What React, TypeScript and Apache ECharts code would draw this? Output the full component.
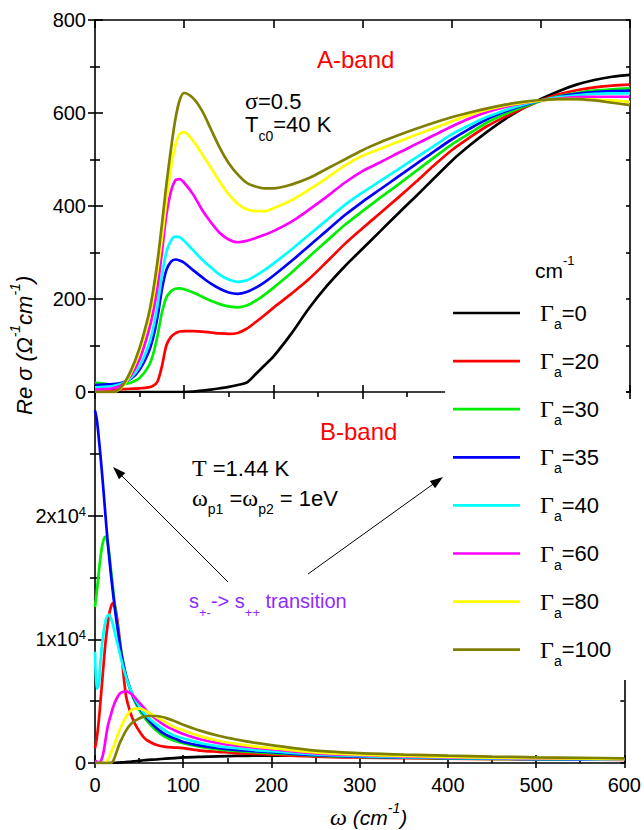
import React, { useEffect, useRef } from 'react';
import * as echarts from 'echarts';

// ---------- data ----------
const gammaValues = ['0', '20', '30', '35', '40', '60', '80', '100'];
const lineColors = ['#000000', '#ff0000', '#00ee00', '#0000ff', '#00ffff', '#ff00ff', '#ffff00', '#808000'];

// A-band (top panel)
const omegaA = [0, 10, 20, 30, 40, 50, 60, 65, 70, 75, 80, 85, 90, 95, 100, 110, 120, 130, 140, 150, 160, 170, 180, 190, 200, 220, 240, 260, 280, 300, 320, 340, 360, 380, 400, 420, 440, 460, 480, 500, 520, 540, 560, 580, 600];
const sigmaA_G0 = [0, 0, 0, 0, 0, 0, 0, 0, 0, 0, 0, 0, 0, 0, 0, 1, 3, 5, 8, 11, 15, 20, 38, 57, 76, 125, 180, 228, 270, 308, 346, 384, 421, 459, 497, 530, 560, 587, 610, 630, 647, 661, 671, 678, 682];
const sigmaA_G20 = [4, 5, 5, 6, 7, 8, 10, 13, 22, 55, 100, 118, 126, 130, 131, 131, 130, 128, 126, 125, 127, 136, 150, 165, 181, 211, 243, 280, 318, 352, 385, 418, 452, 487, 520, 547, 572, 592, 610, 627, 640, 649, 655, 659, 661];
const sigmaA_G30 = [20, 18, 16, 17, 20, 30, 55, 80, 120, 170, 203, 216, 222, 223, 221, 214, 205, 196, 189, 184, 182, 186, 196, 209, 224, 256, 291, 325, 359, 389, 418, 446, 475, 504, 532, 556, 580, 598, 613, 626, 636, 643, 648, 651, 653];
const sigmaA_G35 = [15, 16, 17, 20, 28, 48, 85, 115, 160, 220, 262, 280, 285, 283, 278, 262, 247, 233, 222, 214, 211, 215, 224, 236, 250, 281, 314, 347, 380, 409, 436, 463, 490, 517, 543, 566, 587, 603, 616, 627, 635, 641, 645, 647, 648];
const sigmaA_G40 = [10, 11, 13, 18, 30, 55, 100, 135, 185, 250, 300, 325, 334, 333, 325, 305, 285, 268, 252, 242, 237, 240, 250, 262, 276, 306, 338, 370, 402, 429, 454, 479, 504, 529, 554, 574, 592, 606, 618, 627, 634, 638, 641, 642, 642];
const sigmaA_G60 = [5, 6, 8, 15, 35, 70, 130, 170, 225, 300, 380, 430, 455, 458, 450, 425, 392, 365, 342, 328, 322, 325, 331, 338, 346, 366, 392, 420, 450, 475, 494, 514, 533, 552, 571, 588, 602, 613, 621, 627, 631, 634, 635, 635, 635];
const sigmaA_G80 = [0, 0, 0, 10, 40, 88, 155, 200, 260, 330, 410, 480, 530, 555, 559, 540, 512, 482, 452, 425, 405, 393, 389, 389, 395, 412, 435, 460, 487, 508, 523, 538, 553, 567, 582, 596, 607, 616, 622, 627, 630, 630, 629, 627, 624];
const sigmaA_G100 = [0, 0, 0, 12, 45, 95, 165, 215, 280, 360, 445, 520, 585, 628, 643, 632, 605, 565, 525, 492, 468, 450, 442, 438, 438, 446, 460, 480, 500, 520, 537, 552, 566, 579, 591, 601, 610, 618, 624, 628, 630, 630, 627, 622, 617];
const sigmaA = [sigmaA_G0, sigmaA_G20, sigmaA_G30, sigmaA_G35, sigmaA_G40, sigmaA_G60, sigmaA_G80, sigmaA_G100];

// B-band (bottom panel)
const omegaB = [0, 2, 4, 6, 8, 10, 12, 14, 16, 18, 20, 22, 24, 26, 28, 30, 35, 40, 45, 50, 55, 60, 70, 80, 90, 100, 120, 140, 160, 180, 200, 250, 300, 350, 400, 450, 500, 550, 600];
const sigmaB_G0 = [0, 0, 0, 0, 0, 0, 0, 0, 0, 0, 0, 10, 20, 30, 40, 50, 80, 100, 140, 180, 220, 250, 300, 350, 400, 450, 500, 540, 570, 590, 600, 600, 560, 520, 480, 440, 400, 370, 340];
const sigmaB_G20 = [1200, 2000, 3200, 4800, 6500, 8200, 9800, 11000, 12000, 12600, 12900, 12800, 12200, 11200, 10000, 8800, 5500, 4100, 3200, 2600, 2100, 1800, 1450, 1300, 1250, 1200, 1000, 900, 800, 740, 680, 520, 440, 390, 350, 320, 300, 280, 260];
const sigmaB_G30 = [12600, 13800, 15200, 16500, 17500, 18100, 18300, 17900, 17000, 15700, 14400, 13100, 11900, 10800, 9800, 8900, 7100, 5900, 5000, 4300, 3800, 3300, 2600, 2100, 1800, 1600, 1300, 1100, 970, 880, 800, 600, 500, 430, 380, 340, 310, 290, 270];
const sigmaB_G35 = [28500, 27800, 26500, 25000, 23400, 21700, 19900, 18200, 16700, 15300, 14000, 12800, 11700, 10700, 9700, 8800, 7100, 6000, 5100, 4500, 4000, 3500, 2800, 2300, 2000, 1700, 1400, 1200, 1050, 950, 870, 630, 520, 450, 400, 360, 320, 300, 280];
const sigmaB_G40 = [9000, 6000, 6200, 8000, 9600, 10700, 11500, 11900, 12000, 11700, 11300, 10700, 10100, 9500, 8900, 8300, 7000, 6000, 5200, 4600, 4100, 3700, 3100, 2600, 2200, 2000, 1600, 1350, 1200, 1050, 950, 690, 560, 480, 420, 380, 340, 310, 290];
const sigmaB_G60 = [200, 100, 0, 100, 400, 1000, 1900, 2800, 3400, 3900, 4400, 4800, 5150, 5400, 5600, 5700, 5800, 5650, 5300, 4900, 4500, 4100, 3500, 3000, 2650, 2350, 1900, 1600, 1400, 1250, 1120, 780, 630, 530, 460, 410, 370, 340, 310];
const sigmaB_G80 = [0, 0, 0, 0, 0, 0, 50, 200, 450, 800, 1150, 1500, 1900, 2300, 2700, 3000, 3700, 4200, 4400, 4400, 4300, 4100, 3700, 3300, 2900, 2650, 2150, 1800, 1550, 1350, 1200, 850, 680, 570, 490, 430, 390, 350, 320];
const sigmaB_G100 = [0, 0, 0, 0, 0, 0, 0, 0, 0, 0, 100, 400, 800, 1200, 1600, 1900, 2600, 3100, 3400, 3600, 3750, 3800, 3800, 3650, 3400, 3100, 2600, 2200, 1900, 1650, 1450, 1000, 800, 680, 590, 520, 460, 420, 380];
const sigmaB = [sigmaB_G0, sigmaB_G20, sigmaB_G30, sigmaB_G35, sigmaB_G40, sigmaB_G60, sigmaB_G80, sigmaB_G100];

// ---------- helpers ----------
const SANS = '"Liberation Sans", Arial, Helvetica, sans-serif';
const SERIF = '"Liberation Serif", "Times New Roman", Times, serif';

let measureCtx: CanvasRenderingContext2D | null = null;
function measure(t: string, font: string): number {
  if (!measureCtx) measureCtx = document.createElement('canvas').getContext('2d');
  if (!measureCtx) return t.length * 10;
  measureCtx.font = font;
  return measureCtx.measureText(t).width;
}

type Part = { t: string; s?: number; f?: string; i?: boolean; dy?: number };
function seq(x: number, y: number, parts: Part[], fill: string, base = 22, rotation = 0) {
  let cx = 0;
  const children = parts.map((p) => {
    const size = p.s ?? base;
    const fam = p.f ?? SANS;
    const style = p.i ? 'italic' : 'normal';
    const el = {
      type: 'text',
      x: cx,
      y: p.dy ?? 0,
      z: 30,
      silent: true,
      style: {
        text: p.t,
        fontSize: size,
        fontFamily: fam,
        fontStyle: style,
        fill,
        align: 'left',
        verticalAlign: 'middle',
      },
    };
    cx += measure(p.t, `${style} ${size}px ${fam}`);
    return el;
  });
  return { type: 'group', x, y, rotation, z: 30, silent: true, children };
}

function arrow(x1: number, y1: number, x2: number, y2: number) {
  const dx = x2 - x1;
  const dy = y2 - y1;
  const len = Math.sqrt(dx * dx + dy * dy);
  const ux = dx / len;
  const uy = dy / len;
  const L = 13;
  const w = 4.5;
  const bx = x2 - ux * L;
  const by = y2 - uy * L;
  return [
    { type: 'line', z: 30, silent: true, shape: { x1, y1, x2: bx + ux * 2, y2: by + uy * 2 }, style: { stroke: '#000', lineWidth: 1 } },
    {
      type: 'polygon',
      z: 30,
      silent: true,
      shape: { points: [[x2, y2], [bx - uy * w, by + ux * w], [bx + uy * w, by - ux * w]] },
      style: { fill: '#000' },
    },
  ];
}

export default function App() {
  const ref = useRef<HTMLDivElement>(null);

  useEffect(() => {
    document.body.style.margin = '0';
    if (!ref.current) return;
    const chart = echarts.init(ref.current, undefined, { renderer: 'svg' });

    const ls = { color: '#000', width: 1.6 };
    const tickFont = { fontSize: 20, fontFamily: SANS, color: '#000' };
    const xBase = { type: 'value', min: 0, max: 600, interval: 100, splitLine: { show: false }, axisLabel: { show: false } };

    const xAxis = [
      { ...xBase, gridIndex: 0, position: 'bottom', axisLine: { show: true, onZero: false, lineStyle: ls }, axisTick: { show: true, inside: false, length: 7, lineStyle: ls }, minorTick: { show: true, splitNumber: 2, length: 5, lineStyle: ls } },
      { ...xBase, gridIndex: 0, position: 'bottom', axisLine: { show: false, onZero: false }, axisTick: { show: true, inside: true, length: 7, lineStyle: ls } },
      { ...xBase, gridIndex: 0, position: 'top', axisLine: { show: true, onZero: false, lineStyle: ls }, axisTick: { show: true, inside: true, length: 8, lineStyle: ls } },
      { ...xBase, gridIndex: 1, position: 'bottom', axisLine: { show: true, onZero: false, lineStyle: ls }, axisTick: { show: true, inside: true, length: 8, lineStyle: ls }, minorTick: { show: true, splitNumber: 2, length: 5, lineStyle: ls }, axisLabel: { show: true, margin: 12, ...tickFont } },
      { ...xBase, gridIndex: 1, position: 'bottom', axisLine: { show: false, onZero: false }, axisTick: { show: true, inside: false, length: 5, lineStyle: ls } },
    ];

    const yA = { type: 'value', min: 0, max: 800, interval: 200, splitLine: { show: false } };
    const yB = { type: 'value', min: 0, max: 30000, interval: 10000, splitLine: { show: false } };
    const yAxis = [
      { ...yA, gridIndex: 0, position: 'left', axisLine: { show: true, onZero: false, lineStyle: ls }, axisTick: { show: true, inside: false, length: 7, lineStyle: ls }, minorTick: { show: true, splitNumber: 2, length: 5, lineStyle: ls }, axisLabel: { show: true, margin: 9, ...tickFont } },
      { ...yA, gridIndex: 0, position: 'left', axisLine: { show: false, onZero: false }, axisTick: { show: true, inside: true, length: 8, lineStyle: ls }, minorTick: { show: true, splitNumber: 2, length: 5, lineStyle: ls }, axisLabel: { show: false } },
      { ...yA, interval: 100, gridIndex: 0, position: 'right', axisLine: { show: true, onZero: false, lineStyle: ls }, axisTick: { show: true, inside: true, length: 4, lineStyle: ls }, axisLabel: { show: false } },
      {
        ...yB, gridIndex: 1, position: 'left', axisLine: { show: true, onZero: false, lineStyle: ls }, axisTick: { show: true, inside: false, length: 7, lineStyle: ls }, minorTick: { show: true, splitNumber: 2, length: 5, lineStyle: ls },
        axisLabel: {
          show: true, margin: 9, ...tickFont,
          formatter: (v: number) => (v === 0 ? '{n|0}' : v >= 30000 ? '' : `{n|${v / 10000}x10}{s|4}`),
          rich: {
            n: { fontSize: 20, fontFamily: SANS, color: '#000', lineHeight: 22 },
            s: { fontSize: 13, fontFamily: SANS, color: '#000', lineHeight: 13, verticalAlign: 'top' },
          },
        },
      },
      { ...yB, gridIndex: 1, position: 'left', axisLine: { show: false, onZero: false }, axisTick: { show: true, inside: true, length: 8, lineStyle: ls }, minorTick: { show: true, splitNumber: 2, length: 5, lineStyle: ls }, axisLabel: { show: false } },
      { ...yB, interval: 5000, gridIndex: 1, position: 'right', axisLine: { show: true, onZero: false, lineStyle: ls }, axisTick: { show: true, inside: true, length: 4, lineStyle: ls }, axisLabel: { show: false } },
    ];

    const series: any[] = [];
    gammaValues.forEach((g, i) => {
      series.push({
        type: 'line', name: `A Γa=${g}`, xAxisIndex: 0, yAxisIndex: 0,
        data: omegaA.map((w, j) => [w, sigmaA[i][j]]),
        showSymbol: false, smooth: 0.3, lineStyle: { color: lineColors[i], width: 2.7 }, itemStyle: { color: lineColors[i] },
      });
    });
    gammaValues.forEach((g, i) => {
      series.push({
        type: 'line', name: `B Γa=${g}`, xAxisIndex: 3, yAxisIndex: 3,
        data: omegaB.map((w, j) => [w, sigmaB[i][j]]),
        showSymbol: false, smooth: 0.3, lineStyle: { color: lineColors[i], width: 2.7 }, itemStyle: { color: lineColors[i] },
      });
    });

    // legend (drawn manually)
    const legendEls: any[] = [
      { type: 'rect', z: 25, silent: true, shape: { x: 445, y: 240, width: 181, height: 440 }, style: { fill: '#fff' } },
      seq(535, 270, [{ t: 'cm', s: 21 }, { t: '-1', s: 13, dy: -10 }], '#000'),
    ];
    gammaValues.forEach((g, i) => {
      const y = 313 + i * 48.1;
      legendEls.push({ type: 'line', z: 30, silent: true, shape: { x1: 453, y1: y, x2: 520, y2: y }, style: { stroke: lineColors[i], lineWidth: 2.7 } });
      legendEls.push(seq(540, y, [{ t: 'Γ', f: SERIF, s: 24 }, { t: 'a', s: 14, dy: 11 }, { t: '=' + g, s: 22 }], '#000'));
    });

    const graphic = [
      ...legendEls,
      seq(317, 59, [{ t: 'A-band', s: 24 }], '#ff0000'),
      seq(245, 101, [{ t: 'σ', f: SERIF, s: 24 }, { t: '=0.5', s: 22 }], '#000'),
      seq(245, 124, [{ t: 'T', s: 22 }, { t: 'c0', s: 14, dy: 12 }, { t: '=40 K', s: 22 }], '#000'),
      seq(320, 431, [{ t: 'B-band', s: 24 }], '#ff0000'),
      seq(192, 468, [{ t: 'T', f: SERIF, s: 24 }, { t: ' =1.44 K', s: 22 }], '#000'),
      seq(192, 498, [{ t: 'ω', f: SERIF, s: 24 }, { t: 'p1', s: 14, dy: 11 }, { t: ' =', s: 22 }, { t: 'ω', f: SERIF, s: 24 }, { t: 'p2', s: 14, dy: 11 }, { t: ' = 1eV', s: 22 }], '#000'),
      seq(189, 601, [{ t: 's', s: 20 }, { t: '+-', s: 13, dy: 11 }, { t: '-> s', s: 20 }, { t: '++', s: 13, dy: 11 }, { t: ' transition', s: 20 }], '#8f2bff'),
      ...arrow(228, 582, 113, 467),
      ...arrow(308, 574, 443, 477),
      seq(330, 817, [{ t: 'ω', f: SERIF, i: true, s: 24 }, { t: ' (cm', i: true, s: 21 }, { t: '-1', i: true, s: 14, dy: -9 }, { t: ')', i: true, s: 21 }], '#000'),
      seq(24, 415, [{ t: 'Re ', i: true }, { t: 'σ', i: true }, { t: ' (', i: true }, { t: 'Ω', i: true }, { t: '-1', s: 14, dy: -9, i: true }, { t: 'cm', i: true }, { t: '-1', s: 14, dy: -9, i: true }, { t: ')', i: true }], '#000', 22, Math.PI / 2),
    ];

    chart.setOption({
      animation: false,
      backgroundColor: '#fff',
      grid: [
        { left: 95, top: 20, width: 535, height: 372 },
        { left: 95, top: 392, width: 535, height: 371 },
      ],
      xAxis,
      yAxis,
      series,
      graphic,
    } as any);

    return () => chart.dispose();
  }, []);

  return <div ref={ref} style={{ width: 644, height: 830 }} />;
}
